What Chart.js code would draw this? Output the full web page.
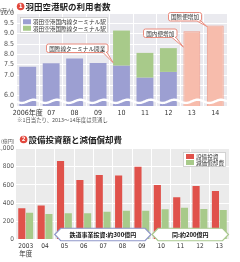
<!DOCTYPE html>
<html>
<head>
<meta charset="utf-8">
<script src="https://cdn.jsdelivr.net/npm/chart.js@4.4.0/dist/chart.umd.min.js"></script>
<style>
  html, body { margin: 0; padding: 0; background: #fff; }
  #wrap { position: relative; width: 240px; height: 262px; overflow: hidden; }
  .box { position: absolute; left: 0; width: 240px; }
</style>
</head>
<body>
<div id="wrap">
  <div class="box" style="top:0;height:126px"><canvas id="top"></canvas></div>
  <div class="box" style="top:128px;height:134px"><canvas id="bot"></canvas></div>
</div>
<script>
const JP = '"Noto Sans CJK JP", sans-serif';
const NUM = '"Liberation Sans Narrow", "DejaVu Sans Condensed", "Liberation Sans", "Noto Sans CJK JP", sans-serif';

// ❶ 羽田空港駅の利用者数 (万人, 1日当たり)
const years1 = ['2006年度', '07', '08', '09', '10', '11', '12', '13', '14'];
const domestic = [7.4, 7.57, 7.8, 7.58, 7.45, 6.87, 7.15, null, null];
const international = [null, null, null, null, 1.7, 1.2, 1.15, null, null];
const outlook = [null, null, null, null, null, null, null, 9.12, 9.4];

// ❷ 設備投資額と減価償却費 (億円)
const years2 = [['2003', '年度'], '04', '05', '06', '07', '08', '09', '10', '11', '12', '13'];
const capex = [343, 375, 862, 654, 709, 703, 800, 600, 464, 588, 532];
const depreciation = [295, 280, 288, 288, 305, 316, 316, 332, 350, 335, 324];

const PURPLE = '#9c9fd2', GREEN = '#a8ca8a', PINK = '#f7bcac', PINK_LINE = '#ef9d8c', RED = '#e0524b';

const plotBg = {
  id: 'plotBg',
  beforeDraw(chart, args, opts) {
    const { ctx, chartArea: a } = chart;
    ctx.save();
    ctx.fillStyle = opts.color;
    ctx.fillRect(a.left, a.top, a.right - a.left, a.bottom - a.top);
    ctx.restore();
  }
};

function drawTitle(ctx, num, text, x, y) {
  ctx.save();
  ctx.fillStyle = '#e2473c';
  ctx.beginPath();
  ctx.arc(x + 3.6, y, 3.8, 0, Math.PI * 2);
  ctx.fill();
  ctx.fillStyle = '#fff';
  ctx.font = 'bold 6px ' + NUM;
  ctx.textAlign = 'center';
  ctx.textBaseline = 'middle';
  ctx.fillText(num, x + 3.6, y + 0.3);
  ctx.fillStyle = '#222';
  ctx.font = 'bold 8.5px ' + JP;
  ctx.textAlign = 'left';
  ctx.fillText(text, x + 8.5, y);
  ctx.restore();
}

function drawLegend(ctx, items, x, y, w, h) {
  ctx.save();
  ctx.fillStyle = '#fff';
  ctx.strokeStyle = '#c8c8c8';
  ctx.lineWidth = 0.8;
  ctx.fillRect(x, y, w, h);
  ctx.strokeRect(x + 0.5, y + 0.5, w - 1, h - 1);
  ctx.font = '5.6px ' + JP;
  ctx.textBaseline = 'middle';
  const row = (h - 3) / items.length;
  items.forEach((it, i) => {
    const cy = y + 1.5 + row * (i + 0.5);
    ctx.fillStyle = it.color;
    ctx.fillRect(x + 3, cy - 2.5, 8, 5);
    ctx.fillStyle = '#333';
    ctx.fillText(it.text, x + 13, cy + 0.3);
  });
  ctx.restore();
}

function callout(ctx, text, x, y, w, h, tipX, tipY, baseX) {
  ctx.save();
  ctx.strokeStyle = '#ea8c7e';
  ctx.fillStyle = '#fff';
  ctx.lineWidth = 1;
  const r = 2;
  ctx.beginPath();
  ctx.moveTo(x + r, y);
  ctx.lineTo(x + w - r, y);
  ctx.quadraticCurveTo(x + w, y, x + w, y + r);
  ctx.lineTo(x + w, y + h - r);
  ctx.quadraticCurveTo(x + w, y + h, x + w - r, y + h);
  ctx.lineTo(baseX + 3, y + h);
  ctx.lineTo(tipX, tipY);
  ctx.lineTo(baseX - 1, y + h);
  ctx.lineTo(x + r, y + h);
  ctx.quadraticCurveTo(x, y + h, x, y + h - r);
  ctx.lineTo(x, y + r);
  ctx.quadraticCurveTo(x, y, x + r, y);
  ctx.closePath();
  ctx.fill();
  ctx.stroke();
  ctx.fillStyle = '#333';
  ctx.font = '5.6px ' + JP;
  ctx.textAlign = 'center';
  ctx.textBaseline = 'middle';
  ctx.fillText(text, x + w / 2, y + h / 2 + 0.3);
  ctx.restore();
}

function blockArrow(ctx, text, x1, x2, yc, h, color) {
  const head = 6;
  ctx.save();
  ctx.fillStyle = '#fff';
  ctx.strokeStyle = color;
  ctx.lineWidth = 1.2;
  ctx.beginPath();
  ctx.moveTo(x1, yc);
  ctx.lineTo(x1 + head, yc - h / 2);
  ctx.lineTo(x2 - head, yc - h / 2);
  ctx.lineTo(x2, yc);
  ctx.lineTo(x2 - head, yc + h / 2);
  ctx.lineTo(x1 + head, yc + h / 2);
  ctx.closePath();
  ctx.fill();
  ctx.stroke();
  ctx.fillStyle = '#111';
  ctx.font = 'bold 6px ' + JP;
  ctx.textAlign = 'center';
  ctx.textBaseline = 'middle';
  ctx.fillText(text, (x1 + x2) / 2, yc + 0.3);
  ctx.restore();
}

const topExtras = {
  id: 'topExtras',
  afterDatasetsDraw(chart) {
    const { ctx, chartArea: a, scales: { x, y } } = chart;
    // wavy break between 0 and 6.0
    const yc = (y.getPixelForValue(5.5) + y.getPixelForValue(6.0)) / 2 + 0.5;
    const period = x.getPixelForValue(1) - x.getPixelForValue(0);
    ctx.save();
    ctx.strokeStyle = '#fff';
    ctx.lineWidth = 2.4;
    ctx.beginPath();
    for (let px = a.left; px <= a.right; px += 0.5) {
      const py = yc + 1.6 * Math.sin((px - a.left) / period * Math.PI * 2);
      if (px === a.left) ctx.moveTo(px, py); else ctx.lineTo(px, py);
    }
    ctx.stroke();
    ctx.restore();
  },
  afterDraw(chart) {
    const { ctx, scales: { x, y } } = chart;
    const half = (x.getPixelForValue(1) - x.getPixelForValue(0)) * 0.72 / 2;
    drawTitle(ctx, '1', '羽田空港駅の利用者数', 17, 6.5);
    ctx.save();
    ctx.fillStyle = '#555';
    ctx.font = '5px ' + JP;
    ctx.textBaseline = 'middle';
    ctx.fillText('(万人)', 0, 10.5);
    ctx.font = '5.4px ' + JP;
    ctx.fillText('※1日当たり、2013〜14年度は見通し', 17, 120);
    ctx.restore();
    drawLegend(ctx, [
      { color: PURPLE, text: chart.data.datasets[0].label },
      { color: GREEN, text: chart.data.datasets[1].label }
    ], 20, 17, 88, 16);
    const b10 = x.getPixelForValue(4) - half;
    callout(ctx, '国際線ターミナル開業', 46.5, 44, 61.5, 8.5, b10, y.getPixelForValue(7.6), 104);
    const b13 = x.getPixelForValue(7) - half;
    callout(ctx, '国内便増加', 143.5, 29, 33.5, 8.5, b13, y.getPixelForValue(8.35), 173);
    const b14 = x.getPixelForValue(8) - half;
    callout(ctx, '国際便増加', 168.5, 12.5, 33, 8.5, b14, y.getPixelForValue(9.35), 198);
  }
};

const botExtras = {
  id: 'botExtras',
  afterDraw(chart) {
    const { ctx, scales: { x, y } } = chart;
    const step = x.getPixelForValue(1) - x.getPixelForValue(0);
    drawTitle(ctx, '2', '設備投資額と減価償却費', 20, 11.5);
    ctx.save();
    ctx.fillStyle = '#555';
    ctx.font = '5px ' + JP;
    ctx.textBaseline = 'middle';
    ctx.fillText('(億円)', 1, 13.5);
    ctx.restore();
    drawLegend(ctx, [
      { color: RED, text: chart.data.datasets[0].label },
      { color: GREEN, text: chart.data.datasets[1].label }
    ], 183, 24, 43, 15);
    const yc = y.getPixelForValue(55);
    blockArrow(ctx, '鉄道事業投資:約300億円', x.getPixelForValue(2) - step / 2, x.getPixelForValue(6) + step / 2 - 0.5, yc, 12.5, '#8e97c9');
    blockArrow(ctx, '同:約200億円', x.getPixelForValue(7) - step / 2 + 0.5, chart.chartArea.right - 0.5, yc, 12.5, '#a9c98f');
  }
};

const tickFont = { family: NUM, size: 7 };

new Chart(document.getElementById('top'), {
  type: 'bar',
  data: {
    labels: years1,
    datasets: [
      { label: '羽田空港国内線ターミナル駅', data: domestic, backgroundColor: PURPLE },
      { label: '羽田空港国際線ターミナル駅', data: international, backgroundColor: GREEN },
      { label: '見通し', data: outlook, backgroundColor: PINK, borderColor: PINK_LINE, borderWidth: 1 }
    ]
  },
  options: {
    responsive: true,
    maintainAspectRatio: false,
    animation: false,
    devicePixelRatio: 1,
    layout: { padding: { top: 13, right: 13, left: 0, bottom: 0 } },
    datasets: { bar: { categoryPercentage: 0.72, barPercentage: 1 } },
    plugins: { legend: { display: false }, tooltip: { enabled: false }, plotBg: { color: '#eaeaef' } },
    scales: {
      x: {
        stacked: true,
        grid: { color: '#ffffff', drawTicks: false },
        border: { display: false },
        ticks: { font: tickFont, color: '#333', padding: 3, maxRotation: 0, autoSkip: false },
        afterFit(s) { s.height = 20; }
      },
      y: {
        stacked: true,
        min: 5.5,
        max: 10,
        grid: { color: '#ffffff', drawTicks: false },
        border: { display: false },
        ticks: {
          stepSize: 0.5,
          autoSkip: false,
          font: tickFont,
          color: '#555',
          padding: 2,
          callback: v => v === 5.5 ? '0' : (v === 6.5 ? '' : v.toFixed(1))
        },
        afterFit(s) { s.width = 16; }
      }
    }
  },
  plugins: [plotBg, topExtras]
});

new Chart(document.getElementById('bot'), {
  type: 'bar',
  data: {
    labels: years2,
    datasets: [
      { label: '設備投資', data: capex, backgroundColor: RED },
      { label: '減価償却費', data: depreciation, backgroundColor: GREEN }
    ]
  },
  options: {
    responsive: true,
    maintainAspectRatio: false,
    animation: false,
    devicePixelRatio: 1,
    layout: { padding: { top: 20.5, right: 11, left: 0, bottom: 0 } },
    datasets: { bar: { categoryPercentage: 0.8, barPercentage: 0.92 } },
    plugins: { legend: { display: false }, tooltip: { enabled: false }, plotBg: { color: '#ebebeb' } },
    scales: {
      x: {
        grid: { color: '#ffffff', drawTicks: false },
        border: { display: false },
        ticks: { font: { family: NUM, size: 6.5 }, color: '#333', padding: 3, maxRotation: 0, autoSkip: false },
        afterFit(s) { s.height = 22.5; }
      },
      y: {
        min: 0,
        max: 1000,
        grid: { color: '#ffffff', drawTicks: false },
        border: { display: false },
        ticks: { stepSize: 200, autoSkip: false, font: { family: NUM, size: 6.5 }, color: '#555', padding: 2 },
        afterFit(s) { s.width = 16; }
      }
    }
  },
  plugins: [plotBg, botExtras]
});
</script>
</body>
</html>
